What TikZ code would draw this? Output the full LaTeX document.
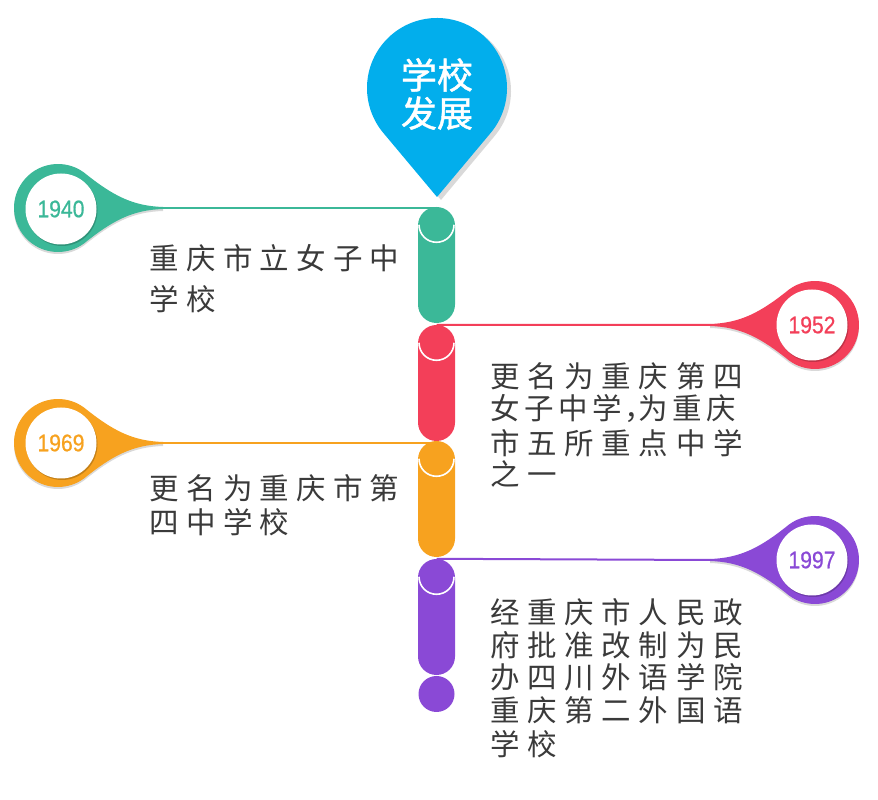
\documentclass[tikz,border=0pt]{standalone}
\usepackage{fontspec}
\setmainfont{Liberation Sans}
\newfontfamily\yearfont[FakeBold=0.7]{Liberation Sans}
\newfontfamily\cjk{Noto Sans CJK SC}
\newfontfamily\cjkb[FakeBold=1.2]{Noto Sans CJK SC}
\usetikzlibrary{shadows,calc}
\definecolor{cgreen}{HTML}{3BB898}
\definecolor{cred}{HTML}{F33F59}
\definecolor{corange}{HTML}{F7A21F}
\definecolor{cpurple}{HTML}{8A49D6}
\definecolor{cblue}{HTML}{02AEEC}
\definecolor{ctext}{HTML}{3A3A3A}
\def\spreadloop#1{\ifx#1\relax\else\makebox[\spreadw][c]{#1}\expandafter\spreadloop\fi}
\newcommand\spreadtext[2]{\def\spreadw{#1}\spreadloop#2\relax}
\newcommand\yeartext[1]{\scalebox{0.88}[1]{#1}}
\tikzset{
  seg/.style={rectangle, rounded corners=18.5pt, minimum width=37pt, minimum height=116pt, inner sep=0pt, draw=none},
  yearc/.style={circle, fill=white, minimum size=71pt, inner sep=0pt, font=\yearfont\fontsize{24}{24}\selectfont,
     drop shadow={shadow xshift=1pt, shadow yshift=-1.5pt, opacity=.2, fill=black}},
  desc/.style={anchor=west, inner sep=0pt, text=ctext, font=\cjk\fontsize{29.5}{30}\selectfont},
  conn/.style={line width=2pt},
  capline/.style={white, line width=1.6pt},
  bubshadow/.style={drop shadow={shadow xshift=0pt, shadow yshift=-2pt, opacity=.15, fill=black}},
}
\begin{document}
\begin{tikzpicture}[x=1pt,y=1pt]
\useasboundingbox (0,0) rectangle (878,800);
% column segments
\node[seg, fill=cgreen] (s1) at (436.5,535) {};
\node[seg, fill=cred] (s2) at (436.5,417) {};
\node[seg, fill=corange] (s3) at (436.5,301) {};
\node[seg, fill=cpurple] (s4) at (436.5,183) {};
\node[circle, fill=cpurple, minimum size=36pt, inner sep=0pt] (s5) at (436.5,106) {};
\foreach \s in {s1,s2,s3,s4}{
  \draw[capline] ($(\s.north)+(-17.5,-18)$) arc[start angle=180, end angle=360, radius=17.5];
}
% tail tip coordinates
\coordinate (t1940) at (163,592);
\coordinate (t1952) at (710,475);
\coordinate (t1969) at (163,357);
\coordinate (t1997) at (710,240);
% connectors
\draw[conn, cgreen] (t1940) -- (t1940 -| s1.north);
\draw[conn, cred] (s2.north) -- (t1952);
\draw[conn, corange] (t1969) -- (t1969 -| s3.north);
\draw[conn, cpurple] (s4.north) -- (t1997);
% bubbles
\begin{scope}[shift={(58,592)}]
\fill[cgreen, bubshadow] (105,1) .. controls (75,2) and (55,12) .. (25.86,35.6) arc[start angle=54, end angle=306, radius=44] .. controls (55,-12) and (75,-2) .. (105,-1) -- cycle;
\end{scope}
\begin{scope}[shift={(815,475)}, xscale=-1]
\fill[cred, bubshadow] (105,1) .. controls (75,2) and (55,12) .. (25.86,35.6) arc[start angle=54, end angle=306, radius=44] .. controls (55,-12) and (75,-2) .. (105,-1) -- cycle;
\end{scope}
\begin{scope}[shift={(58,357)}]
\fill[corange, bubshadow] (105,1) .. controls (75,2) and (55,12) .. (25.86,35.6) arc[start angle=54, end angle=306, radius=44] .. controls (55,-12) and (75,-2) .. (105,-1) -- cycle;
\end{scope}
\begin{scope}[shift={(815,240)}, xscale=-1]
\fill[cpurple, bubshadow] (105,1) .. controls (75,2) and (55,12) .. (25.86,35.6) arc[start angle=54, end angle=306, radius=44] .. controls (55,-12) and (75,-2) .. (105,-1) -- cycle;
\end{scope}
\node[yearc, text=cgreen] (y1940) at (61,591) {\yeartext{1940}};
\node[yearc, text=cred] (y1952) at (812,475) {\yeartext{1952}};
\node[yearc, text=corange] (y1969) at (61,357) {\yeartext{1969}};
\node[yearc, text=cpurple] (y1997) at (812,240) {\yeartext{1997}};
% pin
\fill[cblue, drop shadow={shadow xshift=4pt, shadow yshift=-3pt, opacity=.15, fill=black}]
  (437,603) -- ($(437,712)+(-40:70)$) arc[start angle=-40, end angle=220, radius=70] -- cycle;
\node[align=center, text=white, inner sep=0pt, font=\cjkb\fontsize{36}{38}\selectfont] (pintitle) at (437,706) {学校\\发展};
% descriptions
\node[desc] (d1a) at (146,542) {\spreadtext{36.7pt}{重庆市立女子中}};
\node[desc] (d1b) at (146,501) {\spreadtext{36.7pt}{学校}};
\node[desc] (d2a) at (486,424) {\spreadtext{37.2pt}{更名为重庆第四}};
\node[desc] (d2b) at (488.5,391) {\spreadtext{34pt}{女子中学}\makebox[12pt][l]{，}\spreadtext{34pt}{为重庆}};
\node[desc] (d2c) at (486,357) {\spreadtext{37.2pt}{市五所重点中学}};
\node[desc] (d2d) at (486,326) {\spreadtext{37.2pt}{之一}};
\node[desc] (d3a) at (146,312) {\spreadtext{36.7pt}{更名为重庆市第}};
\node[desc] (d3b) at (146,278) {\spreadtext{36.7pt}{四中学校}};
\node[desc] (d4a) at (486,188) {\spreadtext{37.2pt}{经重庆市人民政}};
\node[desc] (d4b) at (486,155) {\spreadtext{37.2pt}{府批准改制为民}};
\node[desc] (d4c) at (486,123) {\spreadtext{37.2pt}{办四川外语学院}};
\node[desc] (d4d) at (486,90) {\spreadtext{37.2pt}{重庆第二外国语}};
\node[desc] (d4e) at (486,56) {\spreadtext{37.2pt}{学校}};
\end{tikzpicture}
\end{document}
